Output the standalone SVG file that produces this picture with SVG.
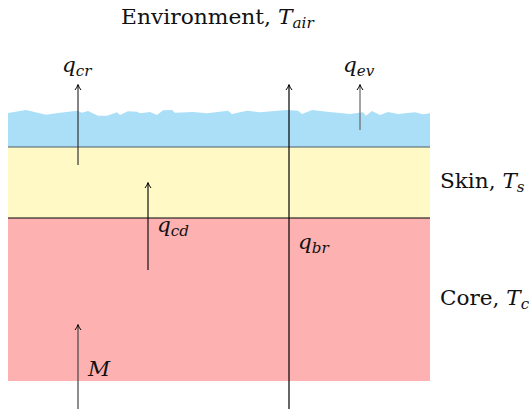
<svg xmlns="http://www.w3.org/2000/svg" width="529" height="409" viewBox="0 0 529 409">
<style>
.t{font-family:"DejaVu Serif","Liberation Serif",serif;font-size:20px;fill:#111}
.i{font-style:italic}
.s{font-size:14px;font-style:italic}
.ar{fill:none;stroke-width:1.2}
</style>
<defs>
<marker id="ah" markerWidth="8" markerHeight="8" refX="6" refY="4" orient="auto" markerUnits="userSpaceOnUse">
<path d="M1,1 Q4,3.4 6.5,4 Q4,4.6 1,7" fill="none" stroke="#000" stroke-width="1"/>
</marker>
</defs>
<g id="air">
<polygon fill="#abdff8" points="8,113 26,110 46,114.7 60,112.7 77,110.7 82,112.7 88,111 98,115.7 107,115.7 117,112.3 120,115 128,111.3 137,111.7 140,113.3 150,112 157,115 163,110.3 172,110 175,112.7 193,112 207,113.3 228,110.7 232,114 247,110.7 260,112.3 278,110.7 287,110 298,110.7 302,114 312,110 327,111.7 350,114 363,112.3 366,115.7 372,111 380,115 388,112 398,114 415,112.3 423,114.3 430,113.3 430,147 8,147"/>
</g>
<g id="skin">
<rect x="8" y="147" width="422" height="71" fill="#fef9c5"/>
<text class="t" transform="translate(440,188) scale(1.08,1)">Skin, <tspan class="i">T</tspan><tspan class="s" dy="4">s</tspan></text>
</g>
<g id="core">
<rect x="8" y="218" width="422" height="163" fill="#feb1b1"/>
<text class="t" transform="translate(440,305) scale(1.08,1)">Core, <tspan class="i">T</tspan><tspan class="s" dy="4">c</tspan></text>
</g>
<g id="environment">
<text class="t" transform="translate(121,24) scale(1.09,1)">Environment, <tspan class="i">T</tspan><tspan class="s" dy="4">air</tspan></text>
</g>
<g id="connectors">
<line x1="8" y1="147" x2="430" y2="147" stroke="#4a5a66" stroke-width="1"/>
<line x1="8" y1="218" x2="430" y2="218" stroke="#000" stroke-width="1"/>
<line class="ar" x1="78" y1="165" x2="78" y2="85" stroke="#333" marker-end="url(#ah)"/>
<line class="ar" x1="360" y1="130" x2="360" y2="85" stroke="#666" marker-end="url(#ah)"/>
<line class="ar" x1="289" y1="409" x2="289" y2="85" stroke="#000" marker-end="url(#ah)"/>
<line class="ar" x1="148" y1="270" x2="148" y2="183" stroke="#111" marker-end="url(#ah)"/>
<line class="ar" x1="78" y1="409" x2="78" y2="325" stroke="#444" marker-end="url(#ah)"/>
</g>
<g id="labels">
<text class="t i" transform="translate(62,72) scale(1.08,1)">q<tspan class="s" dy="4">cr</tspan></text>
<text class="t i" transform="translate(343,72) scale(1.08,1)">q<tspan class="s" dy="4">ev</tspan></text>
<text class="t i" transform="translate(157,232) scale(1.08,1)">q<tspan class="s" dy="4">cd</tspan></text>
<text class="t i" transform="translate(298,249) scale(1.08,1)">q<tspan class="s" dy="4">br</tspan></text>
<text class="t i" transform="translate(88,376) scale(1.08,1)">M</text>
</g>
</svg>
